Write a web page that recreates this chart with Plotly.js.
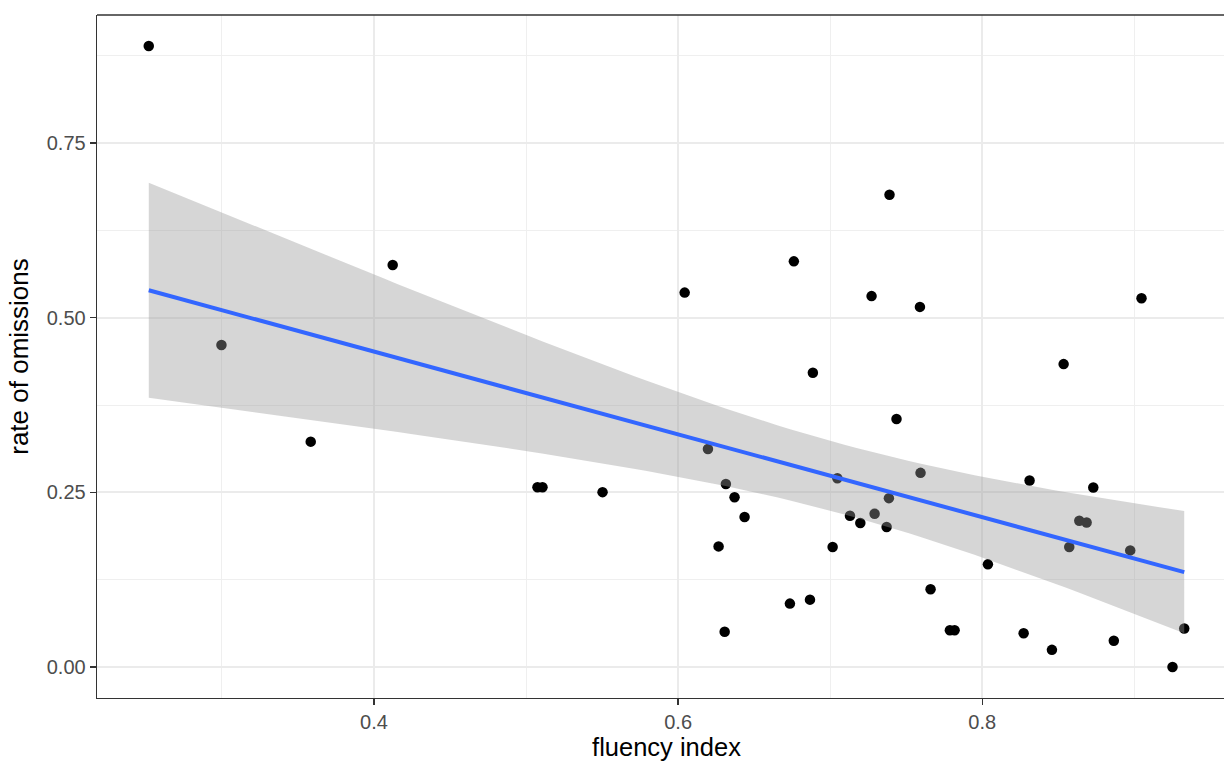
<!DOCTYPE html>
<html>
<head>
<meta charset="utf-8">
<script src="https://cdn.plot.ly/plotly-3.0.1.min.js"></script>
<style>
html, body { margin: 0; padding: 0; overflow: hidden; background: #ffffff; }
#chart { width: 1240px; height: 761px; }
</style>
</head>
<body>
<div id="chart"></div>
<script>
// fluency index (x) and rate of omissions (y)
const fluencyIndex = [
  0.2519, 0.2997, 0.3584, 0.4123, 0.5075, 0.5108, 0.5503, 0.6043, 0.6196, 0.6314,
  0.6371, 0.6437, 0.6266, 0.6306, 0.6735, 0.6867, 0.7436, 0.7047, 0.7130, 0.7198,
  0.7016, 0.7292, 0.7386, 0.7371, 0.7390, 0.6761, 0.7272, 0.7590, 0.6886, 0.8535,
  0.9047, 0.7594, 0.8311, 0.8730, 0.8638, 0.8686, 0.8572, 0.8973, 0.8037, 0.7660,
  0.7787, 0.7818, 0.8272, 0.8458, 0.8865, 0.9251, 0.9328
];
const rateOfOmissions = [
  0.889, 0.461, 0.3226, 0.5755, 0.2574, 0.2574, 0.2503, 0.536, 0.312, 0.262,
  0.243, 0.2146, 0.1726, 0.0503, 0.0907, 0.0964, 0.355, 0.2703, 0.2164, 0.206,
  0.1717, 0.2193, 0.2417, 0.2003, 0.676, 0.5807, 0.531, 0.5155, 0.4212, 0.4336,
  0.5279, 0.2779, 0.2669, 0.2569, 0.2093, 0.2069, 0.1717, 0.1669, 0.1469, 0.1112,
  0.0526, 0.0526, 0.0483, 0.0245, 0.0374, 0.0, 0.055
];
const xTickVals = [0.4, 0.6, 0.8];
const xTickText = ["0.4", "0.6", "0.8"];
const yTickVals = [0, 0.25, 0.5, 0.75];
const yTickText = ["0.00", "0.25", "0.50", "0.75"];

// linear model fit with 95% confidence band (like geom_smooth(method = "lm"))
const n = fluencyIndex.length;
const mx = fluencyIndex.reduce((a, b) => a + b, 0) / n;
const my = rateOfOmissions.reduce((a, b) => a + b, 0) / n;
let sxx = 0, sxy = 0;
for (let i = 0; i < n; i++) {
  sxx += (fluencyIndex[i] - mx) ** 2;
  sxy += (fluencyIndex[i] - mx) * (rateOfOmissions[i] - my);
}
const slope = sxy / sxx;
const intercept = my - slope * mx;
let sse = 0;
for (let i = 0; i < n; i++) {
  const r = rateOfOmissions[i] - (intercept + slope * fluencyIndex[i]);
  sse += r * r;
}
const sigma = Math.sqrt(sse / (n - 2));
const tCrit = 2.0141; // qt(0.975, 45)
const xmin = Math.min(...fluencyIndex), xmax = Math.max(...fluencyIndex);
const gx = [], fit = [], upper = [], lower = [];
for (let k = 0; k < 80; k++) {
  const x0 = xmin + (xmax - xmin) * k / 79;
  const f = intercept + slope * x0;
  const se = sigma * Math.sqrt(1 / n + (x0 - mx) ** 2 / sxx);
  gx.push(x0); fit.push(f);
  upper.push(f + tCrit * se); lower.push(f - tCrit * se);
}
const bandX = gx.concat(gx.slice().reverse());
const bandY = upper.concat(lower.slice().reverse());

// axis ranges with ggplot's 5% expansion
const ymin = Math.min(...rateOfOmissions), ymax = Math.max(...rateOfOmissions);
const xr = [xmin - 0.05 * (xmax - xmin), xmax + 0.05 * (xmax - xmin)];
const yr = [ymin - 0.05 * (ymax - ymin), ymax + 0.05 * (ymax - ymin)];

const traces = [
  { type: "scatter", mode: "markers", x: fluencyIndex, y: rateOfOmissions,
    marker: { color: "#000000", size: 10.5, line: { width: 0 } }, hoverinfo: "x+y" },
  { type: "scatter", mode: "lines", x: bandX, y: bandY, fill: "toself",
    fillcolor: "rgba(153,153,153,0.4)", line: { width: 0 }, hoverinfo: "skip" },
  { type: "scatter", mode: "lines", x: gx, y: fit,
    line: { color: "#3366FF", width: 4 }, hoverinfo: "skip" }
];

const axisCommon = {
  showline: true, mirror: false, linecolor: "#333333", linewidth: 1.3,
  ticks: "outside", ticklen: 6, tickwidth: 1.5, tickcolor: "#333333",
  showgrid: true, gridcolor: "#EBEBEB", gridwidth: 1.8,
  zeroline: false,
  tickfont: { family: "Liberation Sans, Arial, sans-serif", size: 20, color: "#4D4D4D" }
};

const layout = {
  width: 1240, height: 761,
  margin: { l: 96.5, r: 4, t: 14.5, b: 63 },
  paper_bgcolor: "#ffffff", plot_bgcolor: "#ffffff",
  showlegend: false,
  xaxis: Object.assign({}, axisCommon, {
    range: xr, tickmode: "array", tickvals: xTickVals, ticktext: xTickText,
    minor: { tickmode: "linear", tick0: 0.3, dtick: 0.2, showgrid: true, gridcolor: "#EFEFEF", gridwidth: 1, ticks: "" },
    title: { text: "fluency index", standoff: 9,
      font: { family: "Liberation Sans, Arial, sans-serif", size: 25.5, color: "#000000" } }
  }),
  yaxis: Object.assign({}, axisCommon, {
    range: yr, tickmode: "array", tickvals: yTickVals, ticktext: yTickText,
    minor: { tickmode: "linear", tick0: 0.125, dtick: 0.25, showgrid: true, gridcolor: "#EFEFEF", gridwidth: 1, ticks: "" },
    title: { text: "rate of omissions", standoff: 10,
      font: { family: "Liberation Sans, Arial, sans-serif", size: 26, color: "#000000" } }
  }),
  shapes: [
    { type: "line", xref: "paper", yref: "paper", x0: 0, x1: 1, y0: 1, y1: 1,
      line: { color: "#333333", width: 1.3 } }
  ]
};

Plotly.newPlot("chart", traces, layout, { displayModeBar: false, staticPlot: true });
</script>
</body>
</html>
